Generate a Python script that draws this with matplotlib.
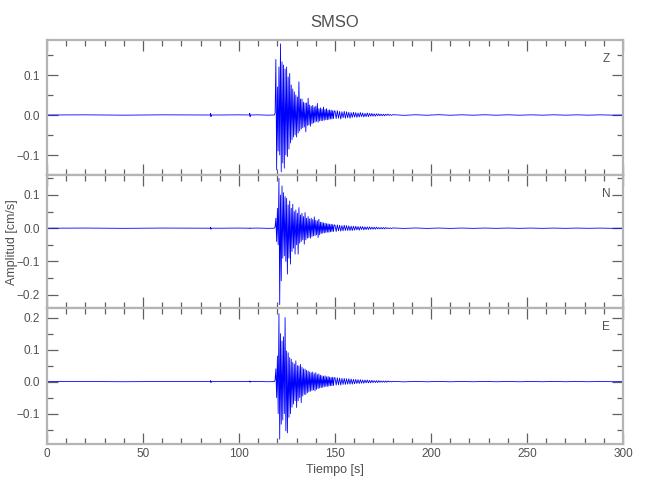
import numpy as np
import matplotlib.pyplot as plt
from matplotlib.ticker import MultipleLocator, FuncFormatter

plt.rcParams['font.family'] = ['Liberation Sans', 'DejaVu Sans']

# Sample times: sparse before the event, dense over the strong motion, coarse tail
t_pre = [0, 20, 40, 60, 80, 85.0, 85.2, 85.4, 85.6, 90, 100,
         105.4, 105.6, 105.8, 106.0, 110, 115, 118.4]
t_coda = np.arange(118.8, 150.0, 0.4)[:78]
t_tail = np.arange(150.0, 180.0, 0.6)[:50]
t_end = np.arange(180.0, 301.0, 6.0)
t = np.concatenate([t_pre, t_coda, t_tail, t_end])

# Vertical component (cm/s)
z_pre = [0, 0.0004, -0.0004, 0.0004, 0, 0, 0.004, -0.004, 0,
         0, 0.0004, 0, 0.004, -0.004, 0, 0.0004, -0.0004, 0.0]
z_coda = [0.005, 0.139, -0.137, 0.070, -0.090, 0.120, -0.100, 0.178, -0.142, 0.133,
          -0.120, 0.125, -0.133, 0.115, -0.100, 0.120, -0.104, 0.095, -0.085, 0.104,
          -0.070, 0.075, -0.062, 0.065, -0.055, 0.058, -0.050, 0.050, -0.055, 0.045,
          -0.045, 0.083, -0.040, 0.040, -0.035, 0.040, -0.032, 0.032, -0.030, 0.030,
          -0.042, 0.030, -0.026, 0.042, -0.025, 0.025, -0.028, 0.022, -0.022, 0.024,
          -0.020, 0.020, -0.018, 0.022, -0.016, 0.029, -0.018, 0.016, -0.015, 0.018,
          -0.014, 0.015, -0.014, 0.020, -0.013, 0.014, -0.012, 0.016, -0.012, 0.012,
          -0.011, 0.013, -0.010, 0.012, -0.010, 0.011, -0.009, 0.010]
z_tail = [0.010, -0.009, 0.011, -0.008, 0.009, -0.010, 0.008, -0.007, 0.009, -0.008,
          0.008, -0.007, 0.007, -0.008, 0.006, -0.006, 0.007, -0.005, 0.006, -0.006,
          0.005, -0.005, 0.006, -0.004, 0.005, -0.005, 0.004, -0.004, 0.005, -0.004,
          0.004, -0.003, 0.004, -0.003, 0.003, -0.003, 0.003, -0.002, 0.003, -0.002,
          0.002, -0.002, 0.002, -0.002, 0.002, -0.001, 0.002, -0.001, 0.001, -0.001]
z_end = [0.0008, -0.0008, 0.0006, -0.0006, 0.0008, -0.0006, 0.0005, -0.0005, 0.0006, -0.0005,
         0.0005, -0.0005, 0.0004, -0.0004, 0.0005, -0.0004, 0.0004, -0.0004, 0.0004, -0.0003, 0.0]

# North component (cm/s)
n_pre = [0, 0.0004, -0.0004, 0.0004, 0, 0, 0.003, -0.003, 0,
         0, 0.0004, 0, 0.0008, -0.0008, 0, 0.0004, -0.0004, 0.0]
n_coda = [0.004, 0.030, -0.040, 0.060, -0.050, 0.150, -0.230, 0.100, -0.158, 0.127,
          -0.090, 0.107, -0.083, 0.095, -0.100, 0.090, -0.138, 0.070, -0.090, 0.082,
          -0.108, 0.060, -0.070, 0.072, -0.060, 0.050, -0.078, 0.055, -0.050, 0.045,
          -0.078, 0.062, -0.045, 0.040, -0.040, 0.045, -0.035, 0.035, -0.048, 0.047,
          -0.035, 0.030, -0.030, 0.035, -0.028, 0.028, -0.030, 0.030, -0.025, 0.026,
          -0.023, 0.034, -0.022, 0.024, -0.020, 0.022, -0.028, 0.027, -0.020, 0.018,
          -0.016, 0.018, -0.015, 0.016, -0.014, 0.015, -0.013, 0.014, -0.012, 0.013,
          -0.012, 0.012, -0.011, 0.012, -0.010, 0.011, -0.010, 0.010]
n_tail = [0.009, -0.010, 0.010, -0.008, 0.009, -0.009, 0.008, -0.008, 0.009, -0.007,
          0.008, -0.007, 0.007, -0.007, 0.006, -0.007, 0.006, -0.006, 0.006, -0.005,
          0.005, -0.006, 0.005, -0.004, 0.005, -0.005, 0.004, -0.004, 0.004, -0.004,
          0.004, -0.003, 0.003, -0.003, 0.003, -0.003, 0.003, -0.002, 0.002, -0.002,
          0.002, -0.002, 0.002, -0.002, 0.002, -0.001, 0.001, -0.001, 0.001, -0.001]
n_end = [0.0008, -0.0006, 0.0007, -0.0006, 0.0005, -0.0006, 0.0005, -0.0005, 0.0005, -0.0004,
         0.0005, -0.0004, 0.0004, -0.0004, 0.0004, -0.0004, 0.0004, -0.0003, 0.0003, -0.0003, 0.0]

# East component (cm/s)
e_pre = [0, 0.0004, -0.0004, 0.0004, 0, 0, 0.003, -0.003, 0,
         0, 0.0004, 0, 0.002, -0.002, 0, 0.0004, -0.0004, 0.0]
e_coda = [0.005, 0.040, -0.050, 0.080, -0.100, 0.212, -0.180, 0.150, -0.133, 0.127,
          -0.120, 0.140, -0.100, 0.200, -0.154, 0.096, -0.160, 0.090, -0.112, 0.075,
          -0.100, 0.070, -0.080, 0.060, -0.070, 0.055, -0.060, 0.065, -0.081, 0.050,
          -0.060, 0.049, -0.050, 0.054, -0.066, 0.045, -0.045, 0.040, -0.040, 0.039,
          -0.040, 0.035, -0.035, 0.033, -0.032, 0.030, -0.030, 0.028, -0.028, 0.030,
          -0.026, 0.025, -0.029, 0.028, -0.024, 0.022, -0.022, 0.024, -0.020, 0.020,
          -0.019, 0.018, -0.018, 0.017, -0.016, 0.018, -0.015, 0.015, -0.015, 0.016,
          -0.014, 0.014, -0.013, 0.013, -0.013, 0.014, -0.012, 0.012]
e_tail = [0.012, -0.011, 0.012, -0.010, 0.011, -0.011, 0.010, -0.009, 0.010, -0.009,
          0.009, -0.008, 0.009, -0.008, 0.008, -0.008, 0.007, -0.007, 0.007, -0.006,
          0.006, -0.006, 0.006, -0.005, 0.005, -0.005, 0.005, -0.004, 0.005, -0.004,
          0.004, -0.004, 0.004, -0.003, 0.003, -0.003, 0.003, -0.003, 0.003, -0.002,
          0.002, -0.002, 0.002, -0.002, 0.002, -0.002, 0.002, -0.001, 0.001, -0.001]
e_end = [0.0008, -0.0008, 0.0007, -0.0006, 0.0007, -0.0006, 0.0005, -0.0005, 0.0006, -0.0005,
         0.0005, -0.0005, 0.0004, -0.0004, 0.0005, -0.0004, 0.0004, -0.0004, 0.0004, -0.0003, 0.0]

components = ['Z', 'N', 'E']
traces = [z_pre + z_coda + z_tail + z_end,
          n_pre + n_coda + n_tail + n_end,
          e_pre + e_coda + e_tail + e_end]
ylims = [(-0.15, 0.1875), (-0.24, 0.16), (-0.195, 0.23)]

text_col = '#505050'
spine_col = '#b4b4b4'
tick_col = '#606060'


def minus_fmt(v, pos):
    return ('%.1f' % v).replace('-', '\u2212')


def main():
    fig = plt.figure(figsize=(6.5, 5.0), dpi=100)
    left, width = 0.0723, 0.8862
    rows = [(0.65, 0.27), (0.384, 0.266), (0.112, 0.272)]

    for i, (bottom, height) in enumerate(rows):
        ax = fig.add_axes([left, bottom, width, height])
        ax.plot(t, traces[i], color='#0000ff', linewidth=0.6)
        ax.set_xlim(0, 300)
        ax.set_ylim(*ylims[i])

        ax.xaxis.set_major_locator(MultipleLocator(50))
        ax.xaxis.set_minor_locator(MultipleLocator(10))
        ax.yaxis.set_major_locator(MultipleLocator(0.1))
        ax.yaxis.set_minor_locator(MultipleLocator(0.05))
        ax.yaxis.set_major_formatter(FuncFormatter(minus_fmt))

        ax.tick_params(which='both', direction='in', top=True, right=True,
                       color=tick_col, labelcolor=text_col, labelsize=8.5, width=0.9)
        ax.tick_params(which='major', length=8)
        ax.tick_params(which='minor', length=4)
        ax.tick_params(axis='y', which='major', pad=5)
        ax.tick_params(axis='x', which='major', pad=3)
        for sp in ax.spines.values():
            sp.set_color(spine_col)
            sp.set_linewidth(1.6)
        if i < 2:
            ax.tick_params(labelbottom=False)

        ax.text(0.978, 0.86, components[i], transform=ax.transAxes,
                ha='right', va='center', fontsize=8.5, color=text_col)

    fig.text(0.515, 0.955, 'SMSO', ha='center', va='center', fontsize=12, color=text_col)
    fig.text(0.515, 0.06, 'Tiempo [s]', ha='center', va='center', fontsize=9, color=text_col)
    fig.text(0.018, 0.515, 'Amplitud [cm/s]', ha='center', va='center',
             rotation=90, fontsize=9, color=text_col)

    fig.savefig('out.png', dpi=100, facecolor='white')


if __name__ == "__main__":
    main()
